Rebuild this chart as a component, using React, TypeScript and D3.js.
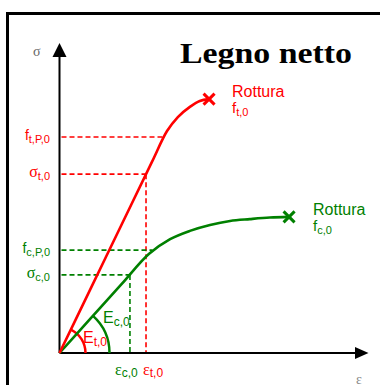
import React from "react";
import * as d3 from "d3";

// Stress–strain diagram for clear wood (parallel to grain), schematic units
const tensionCurve: [number, number][] = [
  [0, 0], [1, 2.06], [2, 4.12], [3, 6.18], [3.48, 7.16], [3.83, 7.61], [4.22, 7.94], [4.54, 8.13], [4.84, 8.19],
];
const compressionCurve: [number, number][] = [
  [0, 0], [1, 1.105], [2, 2.21], [2.9, 3.2], [3.58, 3.67], [4.22, 3.94], [4.87, 4.13], [5.52, 4.26],
  [6.16, 4.32], [6.81, 4.37], [7.43, 4.39],
];

// Reference levels on the stress axis
const tensionLevels = [6.97, 5.77]; // f_t,P,0 , σ_t,0
const compressionLevels = [3.32, 2.52]; // f_c,P,0 , σ_c,0
// Strain where each level meets its curve
const tensionStrains = [3.38, 2.8]; // proportional limit, ε_t,0
const compressionStrains = [3.01, 2.28]; // proportional limit, ε_c,0

const tensionLevelLabels = [
  { main: "f", sub: "t,P,0", greek: false },
  { main: "σ", sub: "t,0", greek: true },
];
const compressionLevelLabels = [
  { main: "f", sub: "c,P,0", greek: false },
  { main: "σ", sub: "c,0", greek: true },
];

const RED = "#ff0000";
const GREEN = "#008000";
const SANS = "'Liberation Sans', Arial, sans-serif";
const SERIF = "'Liberation Serif', 'Times New Roman', serif";

export default function App() {
  const x = d3.scaleLinear().domain([0, 10]).range([59.5, 368.5]);
  const y = d3.scaleLinear().domain([0, 10]).range([353, 43]);
  const ox = x(0);
  const oy = y(0);

  const line = d3
    .line<[number, number]>()
    .x((d) => x(d[0]))
    .y((d) => y(d[1]))
    .curve(d3.curveMonotoneX);

  const arcPath = (curve: [number, number][], r: number) => {
    const p = curve[2];
    const ang = Math.atan2(y(p[1]) - oy, x(p[0]) - ox);
    const path = d3.path();
    path.moveTo(ox + r, oy);
    path.arc(ox, oy, r, 0, ang, true);
    return path.toString();
  };

  const tEnd = tensionCurve[tensionCurve.length - 1];
  const cEnd = compressionCurve[compressionCurve.length - 1];

  const cross = (cx: number, cy: number, color: string) => (
    <g stroke={color} strokeWidth={3}>
      <line x1={cx - 5.5} y1={cy - 5.5} x2={cx + 5.5} y2={cy + 5.5} />
      <line x1={cx - 5.5} y1={cy + 5.5} x2={cx + 5.5} y2={cy - 5.5} />
    </g>
  );

  const levelLabel = (
    lbl: { main: string; sub: string; greek: boolean },
    yy: number,
    color: string
  ) => (
    <text x={50} y={yy + 3} textAnchor="end" fill={color} fontFamily={SANS}>
      <tspan fontSize={lbl.greek ? 16 : 14} fontFamily={lbl.greek ? SERIF : SANS}>
        {lbl.main}
      </tspan>
      <tspan fontSize={11} dy={3}>
        {lbl.sub}
      </tspan>
    </text>
  );

  return (
    <svg
      width={380}
      height={385}
      style={{ position: "absolute", left: 0, top: 0, background: "#fff" }}
    >
      {/* frame */}
      <rect x={7.5} y={13.5} width={400} height={400} fill="none" stroke="#000" strokeWidth={3} />

      {/* title */}
      <text
        x={180}
        y={63}
        fontFamily={SERIF}
        fontWeight="bold"
        fontSize={30}
        textLength={172}
        lengthAdjust="spacingAndGlyphs"
        fill="#000"
      >
        Legno netto
      </text>

      {/* dashed guide lines: tension */}
      <g stroke={RED} strokeWidth={1.6} strokeDasharray="5,3" fill="none">
        {tensionLevels.map((s, i) => (
          <line key={i} x1={ox + 2} y1={y(s)} x2={x(tensionStrains[i])} y2={y(s)} />
        ))}
        <line x1={x(tensionStrains[1])} y1={y(tensionLevels[1])} x2={x(tensionStrains[1])} y2={oy} />
      </g>
      {/* dashed guide lines: compression */}
      <g stroke={GREEN} strokeWidth={1.6} strokeDasharray="5,3" fill="none">
        {compressionLevels.map((s, i) => (
          <line key={i} x1={ox + 2} y1={y(s)} x2={x(compressionStrains[i])} y2={y(s)} />
        ))}
        <line
          x1={x(compressionStrains[1])}
          y1={y(compressionLevels[1])}
          x2={x(compressionStrains[1])}
          y2={oy}
        />
      </g>

      {/* axes */}
      <g stroke="#000" strokeWidth={2}>
        <line x1={ox} y1={oy} x2={ox} y2={56} />
        <line x1={ox} y1={oy} x2={356} y2={oy} />
      </g>
      <path d={`M${ox},43 L${ox - 7},57 L${ox + 7},57 Z`} fill="#000" />
      <path d={`M368.5,${oy} L355,${oy - 6} L355,${oy + 6} Z`} fill="#000" />
      <text x={33} y={56} fontFamily={SERIF} fontSize={14} fill="#666">
        σ
      </text>
      <text x={356} y={384} fontFamily={SERIF} fontSize={14} fill="#888">
        ε
      </text>

      {/* modulus arcs */}
      <path d={arcPath(compressionCurve, 50)} fill="none" stroke={GREEN} strokeWidth={2.5} />
      <path d={arcPath(tensionCurve, 26)} fill="none" stroke={RED} strokeWidth={2.5} />

      {/* curves */}
      <path d={line(compressionCurve) ?? ""} fill="none" stroke={GREEN} strokeWidth={2.6} />
      <path d={line(tensionCurve) ?? ""} fill="none" stroke={RED} strokeWidth={2.6} />

      {cross(x(tEnd[0]), y(tEnd[1]), RED)}
      {cross(x(cEnd[0]), y(cEnd[1]), GREEN)}

      {/* failure labels */}
      <text x={232} y={97} fontFamily={SANS} fontSize={16} fill={RED}>
        Rottura
      </text>
      <text x={232} y={113} fontFamily={SANS} fill={RED}>
        <tspan fontSize={15}>f</tspan>
        <tspan fontSize={11} dy={3}>t,0</tspan>
      </text>
      <text x={313} y={215} fontFamily={SANS} fontSize={16} fill={GREEN}>
        Rottura
      </text>
      <text x={313} y={231} fontFamily={SANS} fill={GREEN}>
        <tspan fontSize={15}>f</tspan>
        <tspan fontSize={11} dy={3}>c,0</tspan>
      </text>

      {/* stress level labels */}
      {tensionLevels.map((s, i) => (
        <React.Fragment key={`t${i}`}>{levelLabel(tensionLevelLabels[i], y(s), RED)}</React.Fragment>
      ))}
      {compressionLevels.map((s, i) => (
        <React.Fragment key={`c${i}`}>
          {levelLabel(compressionLevelLabels[i], y(s), GREEN)}
        </React.Fragment>
      ))}

      {/* moduli */}
      <text x={103} y={323} fontFamily={SANS} fill={GREEN}>
        <tspan fontSize={16}>E</tspan>
        <tspan fontSize={12} dy={3}>c,0</tspan>
      </text>
      <text x={83} y={343} fontFamily={SANS} fill={RED}>
        <tspan fontSize={16}>E</tspan>
        <tspan fontSize={12} dy={3}>t,0</tspan>
      </text>

      {/* strain labels */}
      <text x={115} y={375} fill={GREEN}>
        <tspan fontFamily={SERIF} fontSize={16}>ε</tspan>
        <tspan fontFamily={SANS} fontSize={12} dy={2}>c,0</tspan>
      </text>
      <text x={143} y={375} fill={RED}>
        <tspan fontFamily={SERIF} fontSize={16}>ε</tspan>
        <tspan fontFamily={SANS} fontSize={12} dy={2}>t,0</tspan>
      </text>
    </svg>
  );
}
